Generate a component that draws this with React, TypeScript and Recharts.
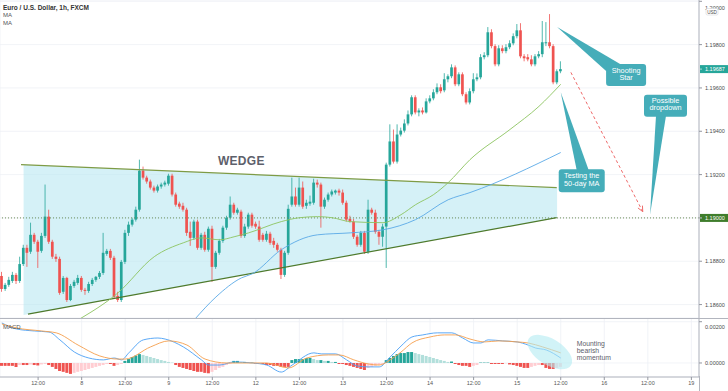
import React from "react";
import {
  ComposedChart,
  Bar,
  Line,
  Area,
  XAxis,
  YAxis,
  CartesianGrid,
  ReferenceLine,
  ReferenceDot,
  Cell,
} from "recharts";

// hourly candles, index 0 = 7th 02:00
const open = [
  1.18732, 1.18672, 1.18691, 1.18709, 1.18737, 1.18709, 1.18787, 1.18862, 1.18844, 1.18922,
  1.1889, 1.18848, 1.18917, 1.19006, 1.1889, 1.18821, 1.18811, 1.18659, 1.18723, 1.18621,
  1.18686, 1.187, 1.18723, 1.18668, 1.18663, 1.18695, 1.18714, 1.18728, 1.18746, 1.18834,
  1.18848, 1.18816, 1.1864, 1.18621, 1.18797, 1.18931, 1.18969, 1.18992, 1.19038, 1.19218,
  1.19186, 1.19168, 1.1914, 1.19126, 1.19145, 1.19154, 1.19158, 1.19195, 1.19108, 1.19066,
  1.19056, 1.19038, 1.18936, 1.18908, 1.18983, 1.18862, 1.18922, 1.18853, 1.1895, 1.18774,
  1.18839, 1.18894, 1.18955, 1.19001, 1.19061, 1.19024, 1.19029, 1.18917, 1.1896, 1.19015,
  1.18973, 1.1896, 1.18922, 1.18899, 1.18927, 1.18894, 1.18876, 1.18853, 1.18737, 1.18839,
  1.19061, 1.19099, 1.19061, 1.1914, 1.19056, 1.19066, 1.1907, 1.19163, 1.19154, 1.19052,
  1.19084, 1.19108, 1.19117, 1.19126, 1.19117, 1.1907, 1.18996, 1.18983, 1.18913, 1.18876,
  1.18931, 1.18844, 1.19038, 1.19024, 1.18936, 1.18913, 1.1896, 1.19246, 1.19353, 1.1926,
  1.19385, 1.19403, 1.19436, 1.19478, 1.19557, 1.19487, 1.19496, 1.19487, 1.19538, 1.19552,
  1.1958, 1.19603, 1.19589, 1.1964, 1.19654, 1.19695, 1.19617, 1.19663, 1.19571, 1.19533,
  1.19585, 1.1964, 1.19649, 1.19742, 1.19751, 1.19857, 1.19793, 1.19709, 1.19783, 1.1977,
  1.19788, 1.19806, 1.19839, 1.19866, 1.19746, 1.19742, 1.19732, 1.19709, 1.19746, 1.19756,
  1.19806, 1.19811, 1.19793, 1.19626, 1.19677,
];
const high = [
  1.18751, 1.187, 1.18728, 1.18751, 1.18746, 1.18821, 1.18876, 1.18876, 1.18978, 1.18931,
  1.18899, 1.18931, 1.19154, 1.19038, 1.18899, 1.18834, 1.18821, 1.18732, 1.18728, 1.18695,
  1.18714, 1.18737, 1.18732, 1.18677, 1.18705, 1.18723, 1.18732, 1.18755, 1.18931, 1.18857,
  1.18857, 1.18825, 1.18659, 1.18806, 1.18945, 1.18983, 1.19001, 1.19052, 1.19269, 1.19237,
  1.19195, 1.19177, 1.19149, 1.19154, 1.19163, 1.19172, 1.19204, 1.19204, 1.19117, 1.19075,
  1.1907, 1.19047, 1.18983, 1.18992, 1.18992, 1.18931, 1.18936, 1.1896, 1.18964, 1.18848,
  1.18903, 1.18964, 1.1901, 1.19099, 1.1907, 1.19047, 1.19038, 1.18973, 1.19024, 1.19024,
  1.18983, 1.18987, 1.18931, 1.1894, 1.18936, 1.18908, 1.18885, 1.18862, 1.18848, 1.19061,
  1.19186, 1.1914, 1.19186, 1.19168, 1.19084, 1.19103, 1.19181, 1.19177, 1.19163, 1.19094,
  1.19117, 1.19131, 1.19131, 1.19135, 1.19131, 1.1908, 1.1901, 1.18996, 1.18922, 1.1894,
  1.1894, 1.19084, 1.19047, 1.19038, 1.18945, 1.18973, 1.19255, 1.19432, 1.19408, 1.19432,
  1.19417, 1.19455, 1.19496, 1.19566, 1.19566, 1.19506, 1.1951, 1.19552, 1.19566, 1.19594,
  1.19621, 1.19617, 1.19668, 1.19663, 1.19709, 1.19704, 1.19672, 1.19672, 1.1958, 1.19598,
  1.19668, 1.19667, 1.19756, 1.19765, 1.19881, 1.19871, 1.19802, 1.19797, 1.19797, 1.19802,
  1.1982, 1.19852, 1.19895, 1.19899, 1.19756, 1.19756, 1.19751, 1.19756, 1.1977, 1.19909,
  1.19904, 1.19941, 1.19802, 1.19686, 1.19723,
];
const low = [
  1.18659, 1.18663, 1.18682, 1.187, 1.18695, 1.187, 1.18778, 1.18774, 1.18834, 1.1888,
  1.18769, 1.18839, 1.18908, 1.1888, 1.18811, 1.18797, 1.18645, 1.18649, 1.18612, 1.18616,
  1.18677, 1.18691, 1.18659, 1.18645, 1.18654, 1.18686, 1.18705, 1.18718, 1.18737, 1.18825,
  1.18806, 1.18626, 1.18612, 1.18612, 1.18787, 1.18917, 1.1896, 1.18983, 1.19029, 1.19177,
  1.19158, 1.19131, 1.19117, 1.19117, 1.19135, 1.19145, 1.19149, 1.19099, 1.19052, 1.19042,
  1.19029, 1.18917, 1.18871, 1.18899, 1.18853, 1.18853, 1.18844, 1.18844, 1.18705, 1.18765,
  1.1883, 1.18885, 1.18945, 1.18992, 1.19015, 1.19015, 1.18908, 1.18908, 1.1895, 1.18955,
  1.1895, 1.1889, 1.1889, 1.1889, 1.18876, 1.18862, 1.18844, 1.18718, 1.18728, 1.1883,
  1.19052, 1.19052, 1.19052, 1.19042, 1.19042, 1.19056, 1.19061, 1.1914, 1.18955, 1.19042,
  1.19075, 1.19099, 1.19108, 1.19103, 1.19061, 1.18983, 1.18978, 1.18903, 1.18867, 1.18867,
  1.18834, 1.18834, 1.19015, 1.18927, 1.18876, 1.18867, 1.18769, 1.19237, 1.19251, 1.19251,
  1.19376, 1.19394, 1.19427, 1.19469, 1.19478, 1.19469, 1.19478, 1.19482, 1.19529, 1.19543,
  1.19571, 1.19575, 1.1958, 1.19626, 1.19645, 1.19608, 1.19608, 1.19562, 1.19524, 1.19524,
  1.19575, 1.19631, 1.1964, 1.19732, 1.19742, 1.19783, 1.197, 1.197, 1.1976, 1.1976,
  1.19779, 1.19797, 1.19829, 1.19737, 1.19723, 1.19723, 1.197, 1.197, 1.19737, 1.19742,
  1.19793, 1.19783, 1.19617, 1.19617, 1.19668,
];
const close = [
  1.18672, 1.18691, 1.18714, 1.18737, 1.18709, 1.18787, 1.18862, 1.18839, 1.18922, 1.1889,
  1.18844, 1.18917, 1.19006, 1.1889, 1.18821, 1.18811, 1.18654, 1.18723, 1.18621, 1.18686,
  1.18705, 1.18723, 1.18668, 1.18663, 1.18695, 1.18714, 1.18728, 1.18746, 1.18839, 1.18848,
  1.18816, 1.18635, 1.18621, 1.18797, 1.18931, 1.18969, 1.18992, 1.19038, 1.19218, 1.19186,
  1.19168, 1.1914, 1.19126, 1.19145, 1.19154, 1.19163, 1.19195, 1.19108, 1.19061, 1.19052,
  1.19038, 1.18931, 1.18908, 1.18983, 1.18862, 1.18922, 1.18853, 1.1895, 1.18774, 1.18839,
  1.18894, 1.18955, 1.19001, 1.19061, 1.19024, 1.19038, 1.18917, 1.1896, 1.19015, 1.18964,
  1.1896, 1.18899, 1.18899, 1.18927, 1.18885, 1.18876, 1.18853, 1.18737, 1.18839, 1.19042,
  1.19099, 1.19061, 1.1914, 1.19052, 1.1907, 1.19075, 1.19163, 1.19154, 1.19052, 1.19084,
  1.19108, 1.19122, 1.19126, 1.19117, 1.1907, 1.18992, 1.18983, 1.18913, 1.18876, 1.18931,
  1.18844, 1.19038, 1.19024, 1.18936, 1.18913, 1.1896, 1.19246, 1.19353, 1.1926, 1.19385,
  1.19403, 1.19436, 1.19478, 1.19557, 1.19487, 1.19496, 1.19487, 1.19538, 1.19552, 1.1958,
  1.19603, 1.19585, 1.1964, 1.19654, 1.19695, 1.19617, 1.19663, 1.19571, 1.19533, 1.19585,
  1.1964, 1.19649, 1.19742, 1.19751, 1.19857, 1.19793, 1.19709, 1.19783, 1.1977, 1.19788,
  1.19806, 1.19839, 1.19866, 1.19746, 1.19737, 1.19732, 1.19709, 1.19746, 1.19756, 1.19811,
  1.19811, 1.19793, 1.19626, 1.19677, 1.19687,
];

// moving averages, read at a few candles
const ma50Idx = [21, 32, 42, 50, 55, 60, 64, 68, 77, 82, 87, 91, 96, 105, 110, 114, 119, 123, 129, 140, 148, 154];
const ma50 = [
  1.18529, 1.18654, 1.18821, 1.18885, 1.18908, 1.18899, 1.18913, 1.18931, 1.18983, 1.19001, 1.19006,
  1.19001, 1.18983, 1.18978, 1.19015, 1.19061, 1.19108, 1.19163, 1.19269, 1.19408, 1.19515, 1.19617,
];
const ma100Idx = [53, 59, 66, 69, 77, 87, 96, 105, 114, 123, 129, 154];
const ma100 = [1.18529, 1.18635, 1.18723, 1.18742, 1.18853, 1.18922, 1.18931, 1.18945, 1.18992, 1.19084, 1.19117, 1.19302];

// MACD pane
const hist = [
  -0.00014, -0.00014, -0.00014, -0.00014, -0.00019, -0.0001, -0.0001, -0.0001, -0.00007, -0.0001,
  -0.00012, -0.00007, -0.00005, -0.0001, -0.00019, -0.00029, -0.00039, -0.00043, -0.00048, -0.00053,
  -0.00048, -0.00043, -0.00039, -0.00034, -0.00029, -0.00024, -0.00019, -0.00014, -0.0001, -0.00005,
  -0.00005, -0.00014, -0.0001, -0.00005, 0.0001, 0.00019, 0.00029, 0.00036, 0.00043, 0.00039,
  0.00034, 0.00029, 0.00024, 0.00019, 0.00014, 0.0001, 0.00005, 0.00002, -0.0001, -0.00019,
  -0.00024, -0.00029, -0.00034, -0.00039, -0.00043, -0.00043, -0.00048, -0.0005, -0.00043, -0.00034,
  -0.00024, -0.00019, -0.0001, -0.00005, 0.0001, 0.0001, 0.00005, 0.00005, 0.00002, 0.00002,
  -0.00002, -0.00002, -0.00005, -0.0001, -0.0001, -0.00014, -0.00014, -0.00019, -0.00019, -0.00019,
  0.00014, 0.00019, 0.00019, 0.00019, 0.00024, 0.00024, 0.00019, 0.00014, 0.00014, 0.0001,
  0.0001, 0.00005, 0.00005, -0.00005, -0.00005, -0.0001, -0.00014, -0.00019, -0.00024, -0.00029,
  -0.00034, -0.00024, -0.00019, -0.00014, -0.0001, -0.00005, 0.00014, 0.00024, 0.00034, 0.00043,
  0.00048, 0.00048, 0.00053, 0.00053, 0.00048, 0.00043, 0.00039, 0.00034, 0.00029, 0.00024,
  0.00019, 0.00014, 0.0001, 0.00005, 0.00007, -0.00005, -0.0001, -0.00014, -0.00014, -0.00019,
  -0.00014, -0.0001, 0.00002, 0.00002, 0.00002, -0.00005, -0.00005, -0.00005, -0.00005, -0.00002,
  -0.00007, -0.0001, -0.00014, -0.00019, -0.00024, -0.00024, -0.00019, -0.00014, -0.0001, -0.0001,
  -0.00024, -0.00029, -0.00029, -0.00024, -0.00019,
];
const macdIdx = [
  0, 4, 9, 13, 16, 20, 24, 28, 31, 33, 35, 39, 43, 45, 50, 55, 57, 60, 64, 69, 73, 77, 80, 86, 88, 92, 95,
  98, 101, 104, 107, 110, 113, 116, 120, 124, 127, 130, 132, 134, 138, 142, 145, 147, 150, 154,
];
const macd = [
  0.00194, 0.00165, 0.00155, 0.0015, 0.00112, 0.00053, 0.00024, 0.00015, 0.00024, 0.00015, 0.00049,
  0.00112, 0.00121, 0.00116, 0.00078, 0.00015, -0.0001, -0.0001, 0.00005, 0, -0.0001, -0.00044, -0.0001,
  0.00049, 0.00044, 0.00044, 0.00015, -0.00015, -0.00019, -0.00019, 0.00029, 0.00082, 0.00126, 0.00136,
  0.00146, 0.00146, 0.00121, 0.00097, 0.00097, 0.00112, 0.00107, 0.00102, 0.00087, 0.00073, 0.00063, 0.00024,
];
const sigIdx = [
  0, 4, 11, 15, 21, 27, 32, 34, 41, 46, 51, 56, 62, 68, 73, 79, 84, 90, 93, 97, 101, 104, 107, 110, 113,
  118, 122, 125, 129, 133, 137, 142, 145, 149, 154,
];
const signal = [
  0.00189, 0.0017, 0.00155, 0.00146, 0.00087, 0.00034, 0.00019, 0.00019, 0.00078, 0.00107, 0.00087,
  0.00019, 0, 0, 0, -0.00024, 0.00024, 0.00039, 0.00039, 0.00015, -0.00005, -0.0001, 0.00015, 0.00053,
  0.00097, 0.00126, 0.00136, 0.00136, 0.00116, 0.00102, 0.00107, 0.00102, 0.00097, 0.00078, 0.00049,
];

// wedge drawing
const wedgeIdx = [6, 153];
const wedgeTop = [1.19246, 1.1914];
const wedgeBottom = [1.18552, 1.19001];

const timeTicks = [10, 22, 34, 46, 58, 70, 82, 94, 106, 118, 130, 142, 154, 166, 178, 190];
const timeLabels = ["12:00", "8", "12:00", "9", "12:00", "12", "12:00", "13", "12:00", "14", "12:00", "15", "12:00", "16", "12:00", "19"];
const priceTicks = [1.186, 1.187, 1.188, 1.189, 1.19, 1.191, 1.192, 1.193, 1.194, 1.195, 1.196, 1.197, 1.198, 1.199, 1.2];
const macdTicks = [0, 0.001, 0.002];
const support = 1.19;

const UP = "#26a69a";
const DOWN = "#ef5350";
const CALLOUT = "#45adb9";
const TEXT = "#5d606b";
const FONT = "'Liberation Sans', Arial, sans-serif";

const rows: any[] = open.map((o, i) => ({
  i,
  open: o,
  high: high[i],
  low: low[i],
  close: close[i],
  range: [low[i], high[i]],
}));
ma50Idx.forEach((k, j) => (rows[k].ma50 = ma50[j]));
ma100Idx.forEach((k, j) => (rows[k].ma100 = ma100[j]));
wedgeIdx.forEach((k, j) => (rows[k].wedge = [wedgeBottom[j], wedgeTop[j]]));

const macdRows: any[] = hist.map((h, i) => ({ i, hist: h }));
macdIdx.forEach((k, j) => (macdRows[k].macd = macd[j]));
sigIdx.forEach((k, j) => (macdRows[k].signal = signal[j]));

const histColor = (i: number) => {
  const v = hist[i];
  const prev = i > 0 ? hist[i - 1] : v;
  if (v >= 0) return v >= prev ? UP : "#b2dfdb";
  return v <= prev ? DOWN : "#ffcdd2";
};

const Candle = (p: any) => {
  const { x, y, width, height, payload } = p;
  if (!payload || height == null) return <g />;
  const top = Math.min(y, y + height);
  const bot = Math.max(y, y + height);
  const span = payload.high - payload.low || 1e-9;
  const py = (v: number) => top + ((payload.high - v) / span) * (bot - top);
  const color = payload.close >= payload.open ? UP : DOWN;
  const cx = x + width / 2;
  const yo = py(payload.open);
  const yc = py(payload.close);
  return (
    <g>
      <line x1={cx} x2={cx} y1={top} y2={bot} stroke={color} strokeWidth={0.8} />
      <rect x={cx - 1.35} y={Math.min(yo, yc)} width={2.7} height={Math.max(Math.abs(yo - yc), 0.8)} fill={color} />
    </g>
  );
};

const Badge = ({ viewBox, text, bg }: any) => {
  if (!viewBox) return <g />;
  const x = viewBox.x + viewBox.width;
  const y = viewBox.y;
  return (
    <g>
      <rect x={x + 1} y={y - 4} width={28} height={8} fill={bg} />
      <line x1={x} x2={x + 3} y1={y} y2={y} stroke="#fff" strokeWidth={0.6} />
      <text x={x + 6} y={y + 2} fontSize={5.5} fill="#fff" fontFamily={FONT}>
        {text}
      </text>
    </g>
  );
};

const PriceTick = (p: any) => {
  const { x, y, payload, skip } = p;
  if (skip && skip.includes(payload.value)) return <g />;
  // the top label sits half outside the pane, as in the original
  const dy = payload.value === 1.2 ? 0.6 : 2;
  return (
    <text x={x} y={y} dy={dy} fontSize={5.5} fill="#4a4a4a" fontFamily={FONT}>
      {Number(payload.value).toFixed(5)}
    </text>
  );
};

const Callout = ({ cx, cy, box, ptr, lines, tx, ty }: any) => {
  if (cx == null) return <g />;
  const [bx, by, bw, bh] = box;
  return (
    <g>
      <polygon
        points={`${cx},${cy} ${cx + ptr[0]},${cy + ptr[1]} ${cx + ptr[2]},${cy + ptr[3]}`}
        fill={CALLOUT}
      />
      <rect x={cx + bx} y={cy + by} width={bw} height={bh} rx={3} fill={CALLOUT} />
      {lines.map((t: string, k: number) => (
        <text
          key={k}
          x={cx + tx}
          y={cy + ty + k * 7.5}
          fontSize={7.3}
          fill="#fff"
          textAnchor="middle"
          fontFamily={FONT}
        >
          {t}
        </text>
      ))}
    </g>
  );
};

const ArrowHead = ({ cx, cy }: any) => {
  if (cx == null) return <g />;
  return (
    <path
      d={`M${cx - 0.3},${cy - 6} L${cx},${cy} L${cx - 4.8},${cy - 3.7}`}
      stroke="#ef6b6b"
      strokeWidth={1}
      fill="none"
    />
  );
};

const WedgeLabel = ({ cx, cy }: any) =>
  cx == null ? (
    <g />
  ) : (
    <text x={cx} y={cy + 4.5} fontSize={12} fontWeight={700} fill={TEXT} textAnchor="middle" fontFamily={FONT} letterSpacing={0.3}>
      WEDGE
    </text>
  );

const MomentumNote = ({ cx, cy }: any) =>
  cx == null ? (
    <g />
  ) : (
    <g>
      <ellipse cx={cx} cy={cy} rx={25} ry={13} fill="#b2ebf2" fillOpacity={0.6} transform={`rotate(32 ${cx} ${cy})`} />
      {["Mounting", "bearish", "momentum"].map((t, k) => (
        <text key={t} x={cx + 27} y={cy - 6.5 + k * 7} fontSize={6.8} fill={TEXT} fontFamily={FONT}>
          {t}
        </text>
      ))}
    </g>
  );

export default function App() {
  return (
    <div style={{ position: "relative", width: 728, height: 391, background: "#fff", fontFamily: FONT, overflow: "hidden" }}>
      <style>{`body{margin:0}`}</style>
      <div style={{ position: "absolute", left: 0, top: 0 }}>
        <ComposedChart width={728} height={318} data={rows} margin={{ top: 0, right: 0, bottom: 0, left: 0 }}>
          <CartesianGrid stroke="#eef0f5" strokeWidth={0.8} />
          <XAxis
            dataKey="i"
            type="number"
            domain={[-0.5, 192.1]}
            allowDataOverflow
            ticks={timeTicks}
            tick={false}
            axisLine={false}
            tickLine={false}
            height={0}
          />
          <YAxis
            orientation="right"
            width={29}
            domain={[1.18538, 1.20006]}
            allowDataOverflow
            ticks={priceTicks}
            tick={(p: any) => <PriceTick {...p} skip={[1.197, 1.19]} />}
            tickSize={3}
            tickMargin={3}
            tickLine={{ stroke: "#9598a1" }}
            axisLine={{ stroke: "#b2b5be" }}
          />
          <Area
            dataKey="wedge"
            type="linear"
            connectNulls
            stroke="none"
            fill="#b3e5f0"
            fillOpacity={0.55}
            isAnimationActive={false}
          />
          <ReferenceLine
            y={support}
            stroke="#6f8f5a"
            strokeDasharray="1 2"
            strokeWidth={1}
            label={<Badge text="1.19000" bg="#3f7d2c" />}
          />
          <ReferenceLine
            segment={[
              { x: 5.3, y: wedgeTop[0] },
              { x: 152.9, y: wedgeTop[1] },
            ]}
            stroke="#7e9b45"
            strokeWidth={1.2}
          />
          <ReferenceLine
            segment={[
              { x: 7.2, y: 1.18556 },
              { x: 152.9, y: wedgeBottom[1] },
            ]}
            stroke="#4e7a2c"
            strokeWidth={1.2}
          />
          <Bar dataKey="range" barSize={3} shape={Candle} isAnimationActive={false} />
          <Line dataKey="ma50" type="monotone" connectNulls dot={false} stroke="#8cc460" strokeWidth={0.9} isAnimationActive={false} />
          <Line dataKey="ma100" type="monotone" connectNulls dot={false} stroke="#5aa9e6" strokeWidth={0.9} isAnimationActive={false} />
          <ReferenceLine y={close[close.length - 1]} stroke="none" label={<Badge text={close[close.length - 1].toFixed(5)} bg={UP} />} />
          <ReferenceLine
            segment={[
              { x: 156.8, y: 1.19672 },
              { x: 176.6, y: 1.19029 },
            ]}
            stroke="#ef6b6b"
            strokeDasharray="3 2.5"
            strokeWidth={1}
          />
          <ReferenceDot x={176.6} y={1.19029} r={0} shape={(p: any) => <ArrowHead {...p} />} />
          <ReferenceDot x={66} y={1.19264} r={0} shape={(p: any) => <WedgeLabel {...p} />} />
          <ReferenceDot
            x={153}
            y={1.19881}
            r={0}
            shape={(p: any) => (
              <Callout {...p} box={[49, 37, 40, 22]} ptr={[49, 44, 63, 37]} lines={["Shooting", "Star"]} tx={69} ty={45.5} />
            )}
          />
          <ReferenceDot
            x={154}
            y={1.1958}
            r={0}
            shape={(p: any) => (
              <Callout {...p} box={[-2, 77, 46, 23]} ptr={[16, 78, 28, 78]} lines={["Testing the", "50-day MA"]} tx={21} ty={86} />
            )}
          />
          <ReferenceDot
            x={178.6}
            y={1.19015}
            r={0}
            shape={(p: any) => (
              <Callout {...p} box={[-6, -120, 43, 22]} ptr={[6, -99, 16, -99]} lines={["Possible", "dropdown"]} tx={15.5} ty={-112} />
            )}
          />
        </ComposedChart>
      </div>
      <div style={{ position: "absolute", left: 0, top: 318 }}>
        <ComposedChart width={728} height={73} data={macdRows} margin={{ top: 0, right: 0, bottom: 0, left: 0 }}>
          <CartesianGrid stroke="#eef0f5" strokeWidth={0.8} />
          <XAxis
            dataKey="i"
            type="number"
            domain={[-0.5, 192.1]}
            allowDataOverflow
            ticks={timeTicks}
            tickFormatter={(v: number) => timeLabels[timeTicks.indexOf(v)] ?? ""}
            tick={{ fontSize: 5.5, fill: "#555" }}
            tickSize={3}
            tickMargin={1}
            height={14}
            tickLine={{ stroke: "#9598a1" }}
            axisLine={{ stroke: "#b2b5be" }}
          />
          <YAxis
            orientation="right"
            width={29}
            domain={[-0.00068, 0.00218]}
            allowDataOverflow
            ticks={macdTicks}
            tick={(p: any) => <PriceTick {...p} />}
            tickSize={3}
            tickMargin={3}
            tickLine={{ stroke: "#9598a1" }}
            axisLine={{ stroke: "#b2b5be" }}
          />
          <Bar dataKey="hist" barSize={3} isAnimationActive={false}>
            {macdRows.map((r) => (
              <Cell key={r.i} fill={histColor(r.i)} />
            ))}
          </Bar>
          <Line dataKey="macd" type="monotone" connectNulls dot={false} stroke="#4a9ff5" strokeWidth={0.9} isAnimationActive={false} />
          <Line dataKey="signal" type="monotone" connectNulls dot={false} stroke="#f59e4c" strokeWidth={0.9} isAnimationActive={false} />
          <ReferenceDot x={151} y={0.00053} r={0} shape={(p: any) => <MomentumNote {...p} />} />
        </ComposedChart>
      </div>
      <svg width={728} height={391} style={{ position: "absolute", left: 0, top: 0, pointerEvents: "none" }}>
        <text x={3} y={9.5} fontSize={6.5} fontWeight={600} fill="#333" fontFamily={FONT}>
          Euro / U.S. Dollar, 1h, FXCM
        </text>
        <text x={3} y={17.3} fontSize={6} fill="#555" fontFamily={FONT}>
          MA
        </text>
        <text x={3} y={25} fontSize={6} fill="#555" fontFamily={FONT}>
          MA
        </text>
        <text x={3} y={329} fontSize={6} fill="#555" fontFamily={FONT}>
          MACD
        </text>
        <line x1={0} x2={728} y1={318.5} y2={318.5} stroke="#b2b5be" strokeWidth={1} />
        <line x1={699.5} x2={699.5} y1={376} y2={391} stroke="#b2b5be" strokeWidth={1} />
        <rect x={706} y={8.5} width={12} height={6.5} rx={1.5} fill="#fff" stroke="#c9ccd3" strokeWidth={0.5} />
        <text x={712} y={13.5} fontSize={4.6} fill="#4a4a4a" textAnchor="middle" fontFamily={FONT}>
          USD
        </text>
      </svg>
    </div>
  );
}
